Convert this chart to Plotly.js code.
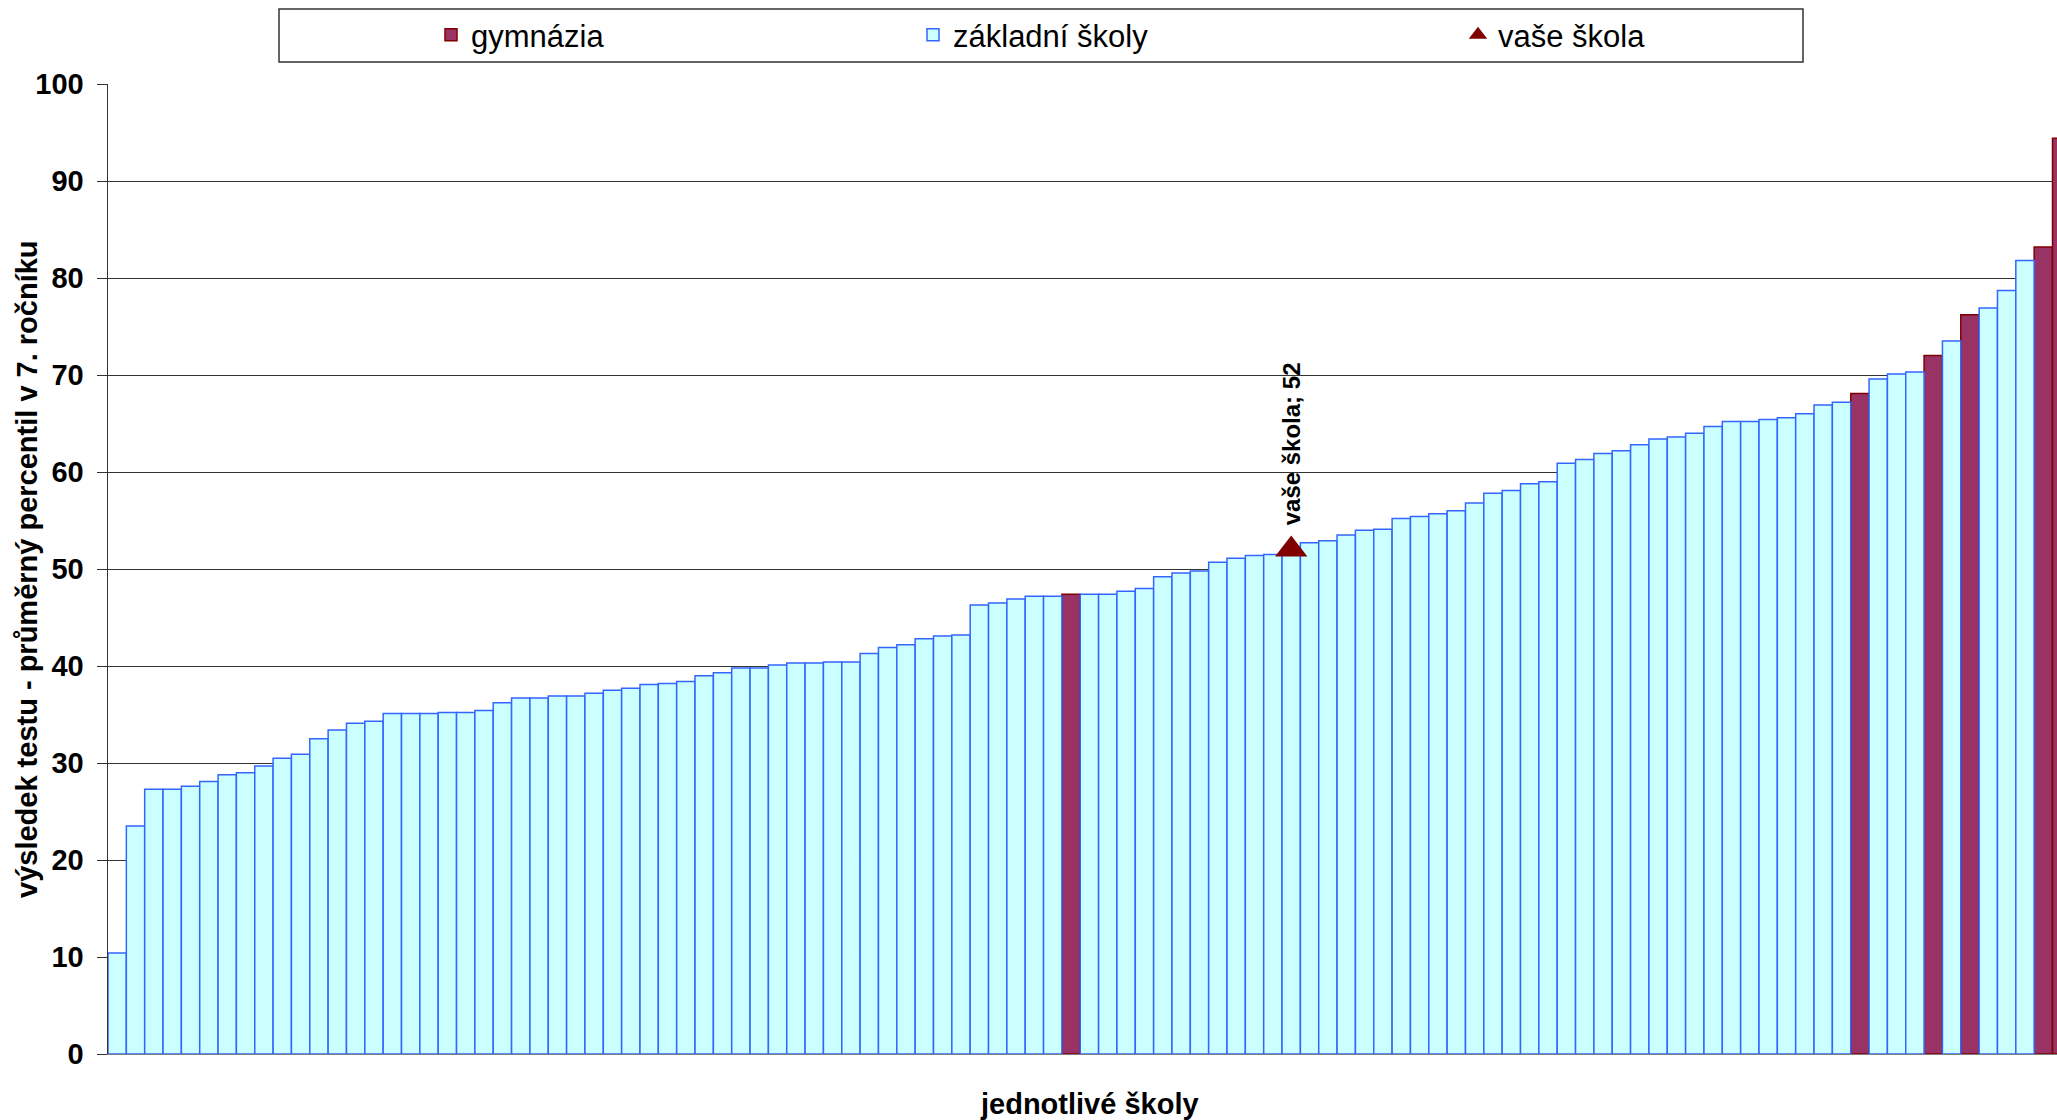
<!DOCTYPE html>
<html>
<head>
<meta charset="utf-8">
<script src="https://cdn.plot.ly/plotly-3.0.1.min.js"></script>
<style>html,body{margin:0;padding:0;background:#fff;}#chart{width:2057px;height:1120px;}</style>
</head>
<body>
<div id="chart"></div>
<script>
// Average percentile of each school (sorted ascending)
const scores = [
  10.4, 23.5, 27.3, 27.3, 27.6, 28.1, 28.8, 29.0, 29.7, 30.5,
  30.9, 32.5, 33.4, 34.1, 34.3, 35.1, 35.1, 35.1, 35.2, 35.2,
  35.4, 36.2, 36.7, 36.7, 36.9, 36.9, 37.2, 37.5, 37.7, 38.1,
  38.2, 38.4, 39.0, 39.3, 39.8, 39.8, 40.1, 40.3, 40.3, 40.4,
  40.4, 41.3, 41.9, 42.2, 42.8, 43.1, 43.2, 46.3, 46.5, 46.9,
  47.2, 47.2, 47.4, 47.4, 47.4, 47.7, 48.0, 49.2, 49.6, 49.8,
  50.7, 51.1, 51.4, 51.5, 51.7, 52.7, 52.9, 53.5, 54.0, 54.1,
  55.2, 55.4, 55.7, 56.0, 56.8, 57.8, 58.1, 58.8, 59.0, 60.9,
  61.3, 61.9, 62.2, 62.8, 63.4, 63.6, 64.0, 64.7, 65.2, 65.2,
  65.4, 65.6, 66.0, 66.9, 67.2, 68.1, 69.6, 70.1, 70.3, 72.0,
  73.5, 76.2, 76.9, 78.7, 81.8, 83.2, 94.4
];
// Positions (1-based rank) of schools that are gymnázia
const gymnaziumRanks = [53, 96, 100, 102, 106, 107];
// "Your school"
const yourSchoolRank = 65;
const yourSchoolValue = 52;

const seriesNames = ['gymnázia', 'základní školy', 'vaše škola'];
const yTitle = 'výsledek testu - průměrný percentil v 7. ročníku';
const xTitle = 'jednotlivé školy';

const gymSet = new Set(gymnaziumRanks);
const gymValues = scores.map((v, i) => gymSet.has(i + 1) ? v : null);
const zsValues = scores.map((v, i) => gymSet.has(i + 1) ? null : v);

const FONT = 'Liberation Sans, Arial, sans-serif';

const traces = [
  {
    type: 'bar', name: seriesNames[0], y: gymValues,
    marker: {color: '#993366', line: {color: '#800000', width: 1.5}},
    legend: 'legend', hoverinfo: 'y'
  },
  {
    type: 'bar', name: seriesNames[1], y: zsValues,
    marker: {color: '#CCFFFF', line: {color: '#3366FF', width: 1.5}},
    legend: 'legend2', hoverinfo: 'y'
  },
  {
    type: 'scatter', mode: 'markers', name: seriesNames[2],
    x: [yourSchoolRank - 1], y: [yourSchoolValue],
    marker: {symbol: 'triangle-up', size: 28, color: '#800000'},
    legend: 'legend3'
  }
];

const plotL = 108, plotW = 2057 - 108;
const px = (p) => (p - plotL) / plotW;

const legendCommon = {
  orientation: 'h', yanchor: 'middle', xanchor: 'left', y: 1.0503,
  bgcolor: 'rgba(0,0,0,0)', borderwidth: 0,
  font: {family: FONT, size: 31, color: '#000'},
  itemsizing: 'trace'
};

const layout = {
  width: 2057, height: 1120,
  margin: {l: 108, r: 0, t: 84, b: 66, pad: 0},
  paper_bgcolor: '#fff', plot_bgcolor: '#fff',
  font: {family: FONT, color: '#000'},
  barmode: 'overlay', bargap: 0,
  showlegend: true,
  legend: Object.assign({}, legendCommon, {x: px(431)}),
  legend2: Object.assign({}, legendCommon, {x: px(913)}),
  legend3: Object.assign({}, legendCommon, {x: px(1458)}),
  xaxis: {
    range: [-0.5, 105.745], showticklabels: false, ticks: '',
    showgrid: false, zeroline: false, showline: true, linecolor: '#808080', linewidth: 1
  },
  yaxis: {
    range: [0, 100], dtick: 10, tick0: 0,
    ticks: 'outside', ticklen: 10, tickcolor: '#333', tickwidth: 1,
    showline: true, linecolor: '#333', linewidth: 1.5,
    showgrid: true, gridcolor: '#333', gridwidth: 1,
    zeroline: false, ticklabelstandoff: 7,
    tickfont: {family: FONT, size: 29, weight: 'bold', color: '#000'}
  },
  shapes: [
    {type: 'rect', xref: 'paper', yref: 'paper',
     x0: px(279), x1: px(1803), y0: (1054 - 62) / 970, y1: (1054 - 9) / 970,
     line: {color: '#333', width: 1.5}, fillcolor: 'rgba(0,0,0,0)'}
  ],
  annotations: [
    {text: yTitle, xref: 'paper', yref: 'paper', x: px(27), y: 0.5,
     xanchor: 'center', yanchor: 'middle', textangle: -90, showarrow: false,
     font: {family: FONT, size: 29, weight: 'bold', color: '#000'}},
    {text: xTitle, xref: 'paper', yref: 'paper', x: px(1089), y: (1054 - 1104) / 970,
     xanchor: 'center', yanchor: 'middle', showarrow: false,
     font: {family: FONT, size: 29, weight: 'bold', color: '#000'}},
    {text: seriesNames[2] + '; ' + yourSchoolValue, x: yourSchoolRank - 1, y: yourSchoolValue,
     xref: 'x', yref: 'y', textangle: -90, xanchor: 'center', yanchor: 'bottom',
     yshift: 22, showarrow: false,
     font: {family: FONT, size: 24, weight: 'bold', color: '#000'}}
  ]
};

Plotly.newPlot('chart', traces, layout, {displayModeBar: false, staticPlot: true});
</script>
</body>
</html>
